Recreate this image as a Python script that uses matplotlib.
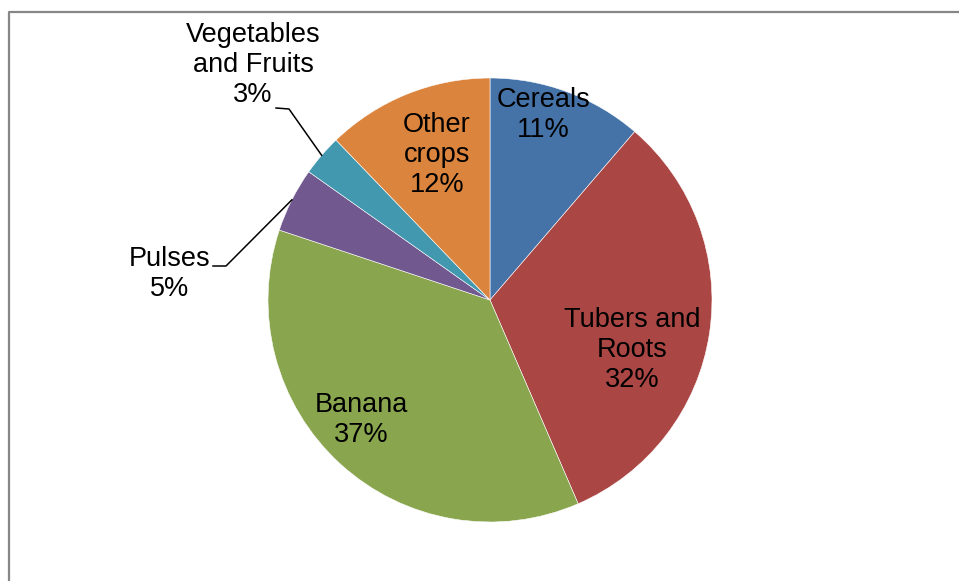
import numpy as np
import matplotlib
matplotlib.use('Agg')
import matplotlib.pyplot as plt

plt.rcParams['font.family'] = ['Liberation Sans', 'DejaVu Sans']

### data
crops = ['Cereals', 'Tubers and\nRoots', 'Banana', 'Pulses', 'Vegetables\nand Fruits', 'Other\ncrops']
shares = [11.3, 32.2, 36.6, 4.7, 3.0, 12.2]
colours = ['#4572A7', '#AA4643', '#89A54E', '#71588F', '#4198AF', '#DB843D']

### layout (pixels, origin top left)
W, H = 959, 581
cx, cy, R = 490, 300, 222
label_pos = [(543, 115), (632, 350), (361, 420), (170, 274), (253, 65), (437, 155)]
# elbows of the leader lines for labels that sit outside the pie
leaders = {3: [(213, 266), (226, 266)], 4: [(276, 108), (289, 109)]}

fig = plt.figure(figsize=(W / 100, H / 100), dpi=100)
ax = fig.add_axes([0, 0, 1, 1])

wedges, _ = ax.pie(shares, colors=colours, startangle=90, counterclock=False,
                   center=(cx, H - cy), radius=R,
                   wedgeprops=dict(edgecolor='white', linewidth=0.4))
ax.set_aspect('auto')
ax.set_xlim(0, W)
ax.set_ylim(0, H)
ax.axis('off')

for i, (name, val) in enumerate(zip(crops, shares)):
    x, y = label_pos[i]
    ax.text(x, H - y, '{}\n{:.0f}%'.format(name, val), ha='center', va='center',
            multialignment='center', fontsize=19.5, linespacing=1.2, color='black')

# leader lines go from the label to the middle of the wedge's outer edge
for i, pts in leaders.items():
    w = wedges[i]
    mid = np.deg2rad((w.theta1 + w.theta2) / 2)
    ex, ey = cx + R * np.cos(mid), (H - cy) + R * np.sin(mid)
    xs = [p[0] for p in pts] + [ex]
    ys = [H - p[1] for p in pts] + [ey]
    ax.plot(xs, ys, color='black', lw=1.1)

# chart area frame (only top and left edges are visible)
ax.plot([9, 9, W], [0, H - 12, H - 12], color='#878787', lw=1.6, clip_on=False)

fig.savefig('out.png', dpi=100)
